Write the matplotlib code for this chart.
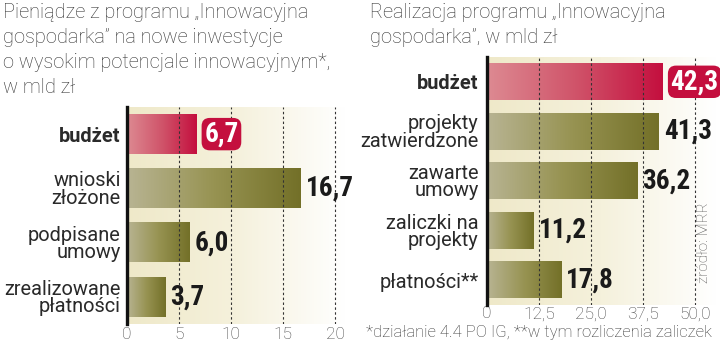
import numpy as np
import matplotlib
matplotlib.use("Agg")
import matplotlib.pyplot as plt
from matplotlib import font_manager
from matplotlib.colors import LinearSegmentedColormap

# ---- data ----
left_title = ["Pieniądze z programu „Innowacyjna",
              "gospodarka” na nowe inwestycje",
              "o wysokim potencjale innowacyjnym*,",
              "w mld zł"]
left_cats = ["budżet", "wnioski\nzłożone", "podpisane\numowy", "zrealizowane\npłatności"]
left_vals = [6.7, 16.7, 6.0, 3.7]
left_labels = ["6,7", "16,7", "6,0", "3,7"]
left_ticks = [0, 5, 10, 15, 20]
left_ticklabels = ["0", "5", "10", "15", "20"]

right_title = ["Realizacja programu „Innowacyjna",
               "gospodarka”, w mld zł"]
right_cats = ["budżet", "projekty\nzatwierdzone", "zawarte\numowy", "zaliczki na\nprojekty", "płatności**"]
right_vals = [42.3, 41.3, 36.2, 11.2, 17.8]
right_labels = ["42,3", "41,3", "36,2", "11,2", "17,8"]
right_ticks = [0, 12.5, 25.0, 37.5, 50.0]
right_ticklabels = ["0", "12,5", "25,0", "37,5", "50,0"]

footnote = "*działanie 4.4 PO IG, **w tym rozliczenia zaliczek"
source = "źródło: MRR"

# ---- fonts ----
installed = {f.name for f in font_manager.fontManager.ttflist}
num_family = "Roboto"
for cand in ["Liberation Sans Narrow", "Roboto Condensed", "Arial Narrow"]:
    if cand in installed:
        num_family = cand
        break

W, H = 720, 344
LIGHT = dict(family=["Roboto", "DejaVu Sans"], weight="light")
REG = dict(family=["Roboto", "DejaVu Sans"])
NUM = dict(family=[num_family, "DejaVu Sans"], weight="bold")
TXT = "#2a2a2a"

red_cmap = LinearSegmentedColormap.from_list("r", ["#dd8a92", "#d0546a", "#c40f3e"])
olv_cmap = LinearSegmentedColormap.from_list("o", ["#b8b493", "#979352", "#737028"])
bg_cmap = LinearSegmentedColormap.from_list("b", ["#efe9c9", "#f5f1dc", "#ffffff"])

fig = plt.figure(figsize=(W / 100, H / 100), dpi=100)
fig.patch.set_facecolor("white")


def px(x0, y0, x1, y1):
    return [x0 / W, 1 - y1 / H, (x1 - x0) / W, (y1 - y0) / H]


def panel(rect, cats, vals, labels, ticks, ticklabels, xmax, tickpad, catpad):
    ax = fig.add_axes(rect)
    n = len(cats)
    grad = np.linspace(0, 1, 256).reshape(1, -1)
    ax.imshow(grad, cmap=bg_cmap, aspect="auto", extent=(0, 1, 0, 1),
              transform=ax.transAxes, zorder=0)
    h = 0.73
    for i, (v, lab) in enumerate(zip(vals, labels)):
        cm = red_cmap if i == 0 else olv_cmap
        ax.imshow(grad, cmap=cm, aspect="auto",
                  extent=(0, v, i + h / 2, i - h / 2), zorder=1,
                  interpolation="bilinear")
        if i == 0:
            ax.annotate(lab, (v, i), xytext=(5.5, 0), textcoords="offset points",
                        ha="left", va="center", color="white", fontsize=19.5,
                        zorder=5, **NUM,
                        bbox=dict(boxstyle="round,pad=0.1,rounding_size=0.3",
                                  fc="#c40f3e", ec="none"))
        else:
            ax.annotate(lab, (v, i), xytext=(3.5, 0), textcoords="offset points",
                        ha="left", va="center", color="#1a1a1a", fontsize=19.5,
                        zorder=5, **NUM)
    ax.set_xlim(0, xmax)
    ax.set_ylim(n - 0.5, -0.5)
    ax.set_xticks(ticks)
    ax.set_xticklabels(ticklabels, fontsize=12.5, color="#444444", **LIGHT)
    ax.set_yticks(range(n))
    ax.set_yticklabels(cats, fontsize=14.4, color=TXT, linespacing=0.88,
                       ha="right", **REG)
    ax.get_yticklabels()[0].set_fontweight("bold")
    ax.tick_params(axis="x", length=0, pad=tickpad)
    ax.tick_params(axis="y", length=0, pad=catpad)
    ax.grid(axis="x", color="#333333", linestyle=(0, (2.2, 2.2)), linewidth=0.8)
    ax.grid(axis="y", visible=False)
    ax.set_axisbelow(False)
    for s in ["top", "right", "bottom"]:
        ax.spines[s].set_visible(False)
    ax.spines["left"].set_linewidth(2.4)
    ax.spines["left"].set_color("#111111")
    ax.spines["left"].set_zorder(6)
    return ax


axL = panel(px(127, 107, 345, 324), left_cats, left_vals, left_labels,
            left_ticks, left_ticklabels, 218 / 10.4, 2, 4.5)
axR = panel(px(487, 57, 716, 305), right_cats, right_vals, right_labels,
            right_ticks, right_ticklabels, 229 / 4.16, 1, 6)

for k, line in enumerate(left_title):
    fig.text(3 / W, 1 - (18 + 25 * k) / H, line, ha="left", va="baseline",
             fontsize=14.4, color="#333333", **LIGHT)
for k, line in enumerate(right_title):
    fig.text(370 / W, 1 - (18 + 25 * k) / H, line, ha="left", va="baseline",
             fontsize=14.4, color="#333333", **LIGHT)

fig.text(712 / W, 1 - 333 / H, footnote, ha="right", va="center",
         fontsize=12, color="#333333", **LIGHT)
fig.text(704 / W, 1 - 243 / H, source, ha="center", va="center", rotation=90,
         fontsize=11, color="#555555", **LIGHT)

fig.savefig("out.png", dpi=100)
